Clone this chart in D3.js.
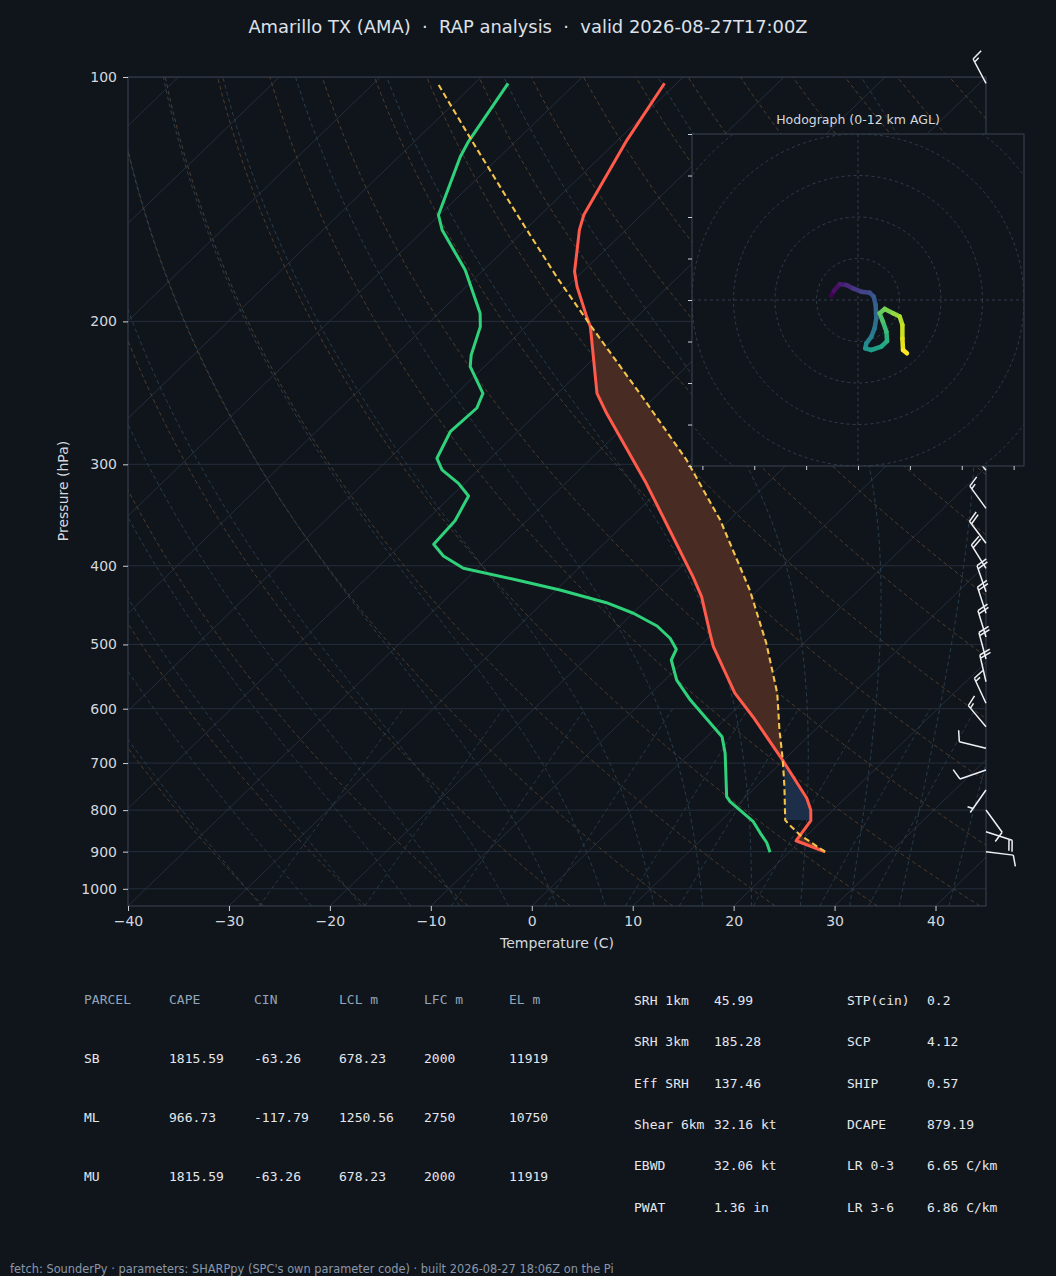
<!DOCTYPE html>
<html>
<head>
<meta charset="utf-8">
<script src="https://cdn.jsdelivr.net/npm/d3@7"></script>
<style>
  html, body { margin: 0; padding: 0; background: #10151c; }
  svg { display: block; }
</style>
</head>
<body>
<div id="chart"></div>
<script>
// ---- sounding (hPa, degC), surface first
const tempP = [900.3, 872.6, 824.4, 799.8, 773.5, 690.8, 613.8, 574.2, 503.2, 484.5, 436.6, 412.6, 361.4, 316.6, 259.6, 245.3, 203, 197.3, 181.3, 173.7, 154.3, 147.9, 119.6, 101.8];
const tempT = [23.5, 19.5, 18.9, 17.8, 16.2, 9.6, 2.5, -1.7, -8.6, -10.3, -14.9, -17.8, -24.9, -32.0, -43.1, -46.1, -53.6, -55.0, -59.0, -60.8, -64.6, -65.7, -69.1, -71.2];

const dewP = [901.6, 877.6, 854.4, 826.6, 781, 770.1, 680.9, 649.7, 585.5, 553.3, 522.6, 507, 491.3, 474.5, 457.7, 444.2, 428.5, 416.5, 402.9, 389, 376.4, 352.1, 328.2, 316.6, 304.8, 294.9, 273.5, 255.7, 245.3, 227.4, 220, 203, 195.4, 172.9, 154.3, 147.9, 125.4, 120.1, 101.8];
const dewT = [18.1, 16.8, 15.2, 13.3, 8.95, 8.1, 3.5, 1.5, -5.4, -8.8, -11.4, -12.0, -13.75, -16.3, -19.95, -23.7, -29.6, -34.9, -41.4, -44.65, -46.8, -47.1, -48.3, -50.6, -53.6, -55.3, -56.7, -56.5, -57.4, -61.4, -62.5, -64.5, -65.9, -71.8, -78.2, -80.1, -83.9, -84.65, -86.7];

const parcelP = [900.3, 858.6, 831.8, 822.9, 748.6, 694, 637.5, 574.2, 498.4, 428.5, 351.4, 296.3, 250, 202, 177, 148.6, 119.6, 102.3];
const parcelT = [23.5, 19.3, 17.0, 16.3, 12.8, 9.9, 6.5, 2.5, -3.7, -10.8, -20.9, -30.4, -40.7, -53.8, -61.8, -72.0, -84.5, -93.4];

const lclP = 823;   // flat bottom of the CIN shading
const cinTopP = 600;

// ---- wind barbs (hPa, direction from, kt)
const barbP = [101.8, 305, 339.9, 375.3, 402.9, 430.5, 457.7, 489.6, 521.2, 555.9, 590.7, 631.4, 671.4, 713.9, 755.5, 799.7, 850.6, 900.3];
const barbDir = [332, 320, 324, 323, 328, 341, 342, 343, 345, 347, 335, 320, 284, 251, 215, 144, 108, 97];
const barbSpd = [15, 15, 15, 20, 20, 20, 20, 20, 20, 20, 15, 15, 10, 10, 5, 10, 20, 10];

// ---- hodograph trace (kt)
const hodoU = [-12.9, -11.7, -8.8, -5.6, -2.4, 1.6, 5.6, 7.6, 8.5, 8.8, 8.0, 6.4, 4.0, 3.5, 6.4, 11.2, 14.0, 13.7, 12.0, 10.4, 12.9, 16.9, 20.1, 21.4, 21.4, 21.7, 23.6];
const hodoV = [2.1, 4.3, 7.6, 7.2, 5.6, 4.0, 3.5, 1.6, -2.4, -8.8, -13.7, -17.7, -20.9, -23.3, -24.1, -22.5, -19.8, -15.3, -10.4, -6.4, -4.3, -6.4, -8.0, -12.0, -18.5, -24.1, -25.7];
const hodoRings = [20, 40, 60, 80, 100];
const hodoXTicks = [-75, -50, -25, 0, 25, 50, 75];
const hodoYTicks = [-80, -60, -40, -20, 0, 20, 40, 60, 80];

// ---- axes ticks
const pTicks = [100, 200, 300, 400, 500, 600, 700, 800, 900, 1000];
const tTicks = [-40, -30, -20, -10, 0, 10, 20, 30, 40];

// ---- background lines (MetPy style families)
const dryT0 = d3.range(-30, 201, 10);
const moistT0 = d3.range(-30, 46, 5);
const mixW = [0.0004, 0.001, 0.002, 0.004, 0.007, 0.01, 0.016, 0.024, 0.032];

// ---- tables
const parcelHead = ["PARCEL", "CAPE", "CIN", "LCL m", "LFC m", "EL m"];
const parcelRows = [
  ["SB", "1815.59", "-63.26", "678.23", "2000", "11919"],
  ["ML", "966.73", "-117.79", "1250.56", "2750", "10750"],
  ["MU", "1815.59", "-63.26", "678.23", "2000", "11919"]
];
const paramRows = [
  ["SRH 1km", "45.99", "STP(cin)", "0.2"],
  ["SRH 3km", "185.28", "SCP", "4.12"],
  ["Eff SRH", "137.46", "SHIP", "0.57"],
  ["Shear 6km", "32.16 kt", "DCAPE", "879.19"],
  ["EBWD", "32.06 kt", "LR 0-3", "6.65 C/km"],
  ["PWAT", "1.36 in", "LR 3-6", "6.86 C/km"]
];

const title = "Amarillo TX (AMA)  \u00b7  RAP analysis  \u00b7  valid 2026-08-27T17:00Z";
const footer = "fetch: SounderPy \u00b7 parameters: SHARPpy (SPC's own parameter code) \u00b7 built 2026-08-27 18:06Z on the Pi";

// ---------------------------------------------------------------
const W = 1056, H = 1276;
const BG = "#10151c";
const TXT = "#d4d8df";
const FRAME = "#3a4352";

const svg = d3.select("#chart").append("svg")
    .attr("width", W).attr("height", H)
    .attr("font-family", "DejaVu Sans");

svg.append("rect").attr("width", W).attr("height", H).attr("fill", BG);

const plot = { left: 128, right: 986, top: 77, bottom: 906 };

const xScale = d3.scaleLinear().domain([-40, 45]).range([plot.left, plot.right]);
const yScale = d3.scaleLog().domain([1050, 100]).range([plot.bottom, plot.top]);
const skewK = (plot.right - plot.left) / (plot.bottom - plot.top); // 45 deg in axes units
const sx = (t, p) => xScale(t) + (plot.bottom - yScale(p)) * skewK;

const line = d3.line().x(d => sx(d[1], d[0])).y(d => yScale(d[0]));

svg.append("defs").append("clipPath").attr("id", "plotclip")
  .append("rect")
    .attr("x", plot.left).attr("y", plot.top)
    .attr("width", plot.right - plot.left).attr("height", plot.bottom - plot.top);

const g = svg.append("g").attr("clip-path", "url(#plotclip)");

// isotherms
d3.range(-130, 51, 10).forEach(t => {
  g.append("path").attr("d", line([[1050, t], [100, t]]))
    .attr("fill", "none").attr("stroke", "#283040").attr("stroke-width", 0.9);
});
// pressure grid
pTicks.forEach(p => {
  g.append("line").attr("x1", plot.left).attr("x2", plot.right)
    .attr("y1", yScale(p)).attr("y2", yScale(p))
    .attr("stroke", "#283040").attr("stroke-width", 0.9);
});

const pFine = d3.range(1050, 99, -5);

// dry adiabats
dryT0.forEach(t0 => {
  const th = t0 + 273.15;
  const pts = pFine.map(p => [p, th * Math.pow(p / 1000, 0.2857) - 273.15]);
  g.append("path").attr("d", line(pts))
    .attr("fill", "none").attr("stroke", "#54412e").attr("stroke-width", 0.9)
    .attr("stroke-dasharray", "4,3");
});

// moist adiabats (integrated from 1000 hPa)
const Rd = 287.04749, Cp = 1004.6662, Lv = 2.50084e6, eps = 0.6219569;
function satMix(p, T) {
  const tc = T - 273.15;
  const es = 6.112 * Math.exp(17.67 * tc / (tc + 243.5));
  return eps * es / (p - es);
}
function dTdp(p, T) {
  const rs = satMix(p, T);
  return (1 / p) * (Rd * T + Lv * rs) / (Cp + (Lv * Lv * rs * eps) / (Rd * T * T));
}
function integrate(T0, p0, p1, h) {
  const out = [[p0, T0]];
  let T = T0, p = p0;
  const n = Math.round(Math.abs(p1 - p0) / h), s = (p1 - p0) / n;
  for (let i = 0; i < n; i++) {
    const k1 = dTdp(p, T);
    const k2 = dTdp(p + s / 2, T + s / 2 * k1);
    const k3 = dTdp(p + s / 2, T + s / 2 * k2);
    const k4 = dTdp(p + s, T + s * k3);
    T += s / 6 * (k1 + 2 * k2 + 2 * k3 + k4);
    p += s;
    out.push([p, T]);
  }
  return out;
}
moistT0.forEach(t0 => {
  const T0 = t0 + 273.15;
  const down = integrate(T0, 1000, 1050, 5).reverse();
  const up = integrate(T0, 1000, 100, 5).slice(1);
  const pts = down.concat(up).map(d => [d[0], d[1] - 273.15]);
  g.append("path").attr("d", line(pts))
    .attr("fill", "none").attr("stroke", "#2a4150").attr("stroke-width", 0.9)
    .attr("stroke-dasharray", "4,3");
});

// mixing ratio lines
mixW.forEach(w => {
  const pts = d3.range(1050, 599, -10).map(p => {
    const e = p * w / (eps + w);
    const l = Math.log(e / 6.112);
    return [p, 243.5 * l / (17.67 - l)];
  });
  g.append("path").attr("d", line(pts))
    .attr("fill", "none").attr("stroke", "#283d4a").attr("stroke-width", 0.9)
    .attr("stroke-dasharray", "4,3");
});

// CAPE / CIN shading
const envAt = d3.scaleLog().domain(tempP).range(tempT);
const parAt = d3.scaleLog().domain(parcelP).range(parcelT);

const capeGrid = d3.range(900, 102, -0.5);
g.append("path")
  .attr("d", d3.area()
    .y(p => yScale(p))
    .x0(p => sx(envAt(p), p))
    .x1(p => sx(Math.max(envAt(p), parAt(p)), p))(capeGrid))
  .attr("fill", "#482c24");

const cinGrid = d3.range(lclP, cinTopP, -0.5);
g.append("path")
  .attr("d", d3.area()
    .y(p => yScale(p))
    .x0(p => sx(Math.min(envAt(p), parAt(p)), p))
    .x1(p => sx(envAt(p), p))(cinGrid))
  .attr("fill", "#1c2e48");

// profiles
g.append("path").attr("d", line(d3.zip(dewP, dewT)))
  .attr("fill", "none").attr("stroke", "#2fd27a").attr("stroke-width", 3)
  .attr("stroke-linejoin", "round");
g.append("path").attr("d", line(d3.zip(tempP, tempT)))
  .attr("fill", "none").attr("stroke", "#ff5a4a").attr("stroke-width", 3)
  .attr("stroke-linejoin", "round");
g.append("path").attr("d", line(d3.zip(parcelP, parcelT)))
  .attr("fill", "none").attr("stroke", "#f4c34a").attr("stroke-width", 2.1)
  .attr("stroke-dasharray", "6,3.5");

// frame
svg.append("rect")
  .attr("x", plot.left).attr("y", plot.top)
  .attr("width", plot.right - plot.left).attr("height", plot.bottom - plot.top)
  .attr("fill", "none").attr("stroke", FRAME).attr("stroke-width", 1);

// axes
const gy = svg.append("g").attr("transform", `translate(${plot.left},0)`)
  .call(d3.axisLeft(yScale).tickValues(pTicks).tickFormat(d3.format("d")).tickSize(5).tickPadding(6));
const gx = svg.append("g").attr("transform", `translate(0,${plot.bottom})`)
  .call(d3.axisBottom(xScale).tickValues(tTicks)
    .tickFormat(d => d < 0 ? "\u2212" + Math.abs(d) : String(d)).tickSize(5).tickPadding(5));
[gx, gy].forEach(a => {
  a.select(".domain").remove();
  a.attr("font-family", "DejaVu Sans").attr("font-size", 14);
  a.selectAll("line").attr("stroke", "#c9ced6");
  a.selectAll("text").attr("fill", TXT);
});

svg.append("text")
  .attr("transform", "translate(68,491) rotate(-90)")
  .attr("text-anchor", "middle").attr("font-size", 14).attr("fill", TXT)
  .text("Pressure (hPa)");
svg.append("text")
  .attr("x", 557).attr("y", 948)
  .attr("text-anchor", "middle").attr("font-size", 14).attr("fill", TXT)
  .text("Temperature (C)");

svg.append("text")
  .attr("x", W / 2).attr("y", 33)
  .attr("text-anchor", "middle").attr("font-size", 17.9).attr("fill", "#dde1e8")
  .style("white-space", "pre")
  .text(title);

// wind barbs on the right edge
function barbPath(x, y, dir, spd) {
  const L = 27.5, fh = 0.4 * L, fw = 0.25 * L, sp = 0.12 * L;
  const a = dir * Math.PI / 180;
  const dx = Math.sin(a), dy = -Math.cos(a);
  const nx = -dy, ny = dx;
  const at = (o, h) => [x + dx * o + nx * h, y + dy * o + ny * h];
  const path = d3.path();
  path.moveTo(...at(0, 0)); path.lineTo(...at(L, 0));
  let s = Math.round(spd / 5) * 5;
  const flags = Math.floor(s / 50); s -= flags * 50;
  const full = Math.floor(s / 10); s -= full * 10;
  const half = s >= 5;
  let off = L;
  for (let i = 0; i < flags; i++) {
    path.moveTo(...at(off, 0)); path.lineTo(...at(off - fw / 2, fh)); path.lineTo(...at(off - fw, 0));
    off -= fw + sp;
  }
  for (let i = 0; i < full; i++) {
    path.moveTo(...at(off, 0)); path.lineTo(...at(off + fw / 2, fh));
    off -= sp;
  }
  if (half) {
    if (off === L) off -= 1.5 * sp;
    path.moveTo(...at(off, 0)); path.lineTo(...at(off + fw / 4, fh / 2));
  }
  return path.toString();
}
const barbG = svg.append("g");
barbP.forEach((p, i) => {
  barbG.append("path")
    .attr("d", barbPath(plot.right, yScale(p), barbDir[i], barbSpd[i]))
    .attr("fill", "none").attr("stroke", "#eef0f4").attr("stroke-width", 1.5);
});

// ---- hodograph inset
const hb = { left: 692, right: 1024, top: 134, bottom: 466 };
const hu = d3.scaleLinear().domain([-80, 80]).range([hb.left, hb.right]);
const hv = d3.scaleLinear().domain([-80, 80]).range([hb.bottom, hb.top]);

svg.append("rect")
  .attr("x", hb.left).attr("y", hb.top)
  .attr("width", hb.right - hb.left).attr("height", hb.bottom - hb.top)
  .attr("fill", BG);

svg.select("defs").append("clipPath").attr("id", "hodoclip")
  .append("rect")
    .attr("x", hb.left).attr("y", hb.top)
    .attr("width", hb.right - hb.left).attr("height", hb.bottom - hb.top);

const hg = svg.append("g").attr("clip-path", "url(#hodoclip)");
hodoRings.forEach(r => {
  hg.append("circle").attr("cx", hu(0)).attr("cy", hv(0)).attr("r", hu(r) - hu(0))
    .attr("fill", "none").attr("stroke", "#364050").attr("stroke-width", 0.9)
    .attr("stroke-dasharray", "3,3");
});
hg.append("line").attr("x1", hb.left).attr("x2", hb.right).attr("y1", hv(0)).attr("y2", hv(0))
  .attr("stroke", "#364050").attr("stroke-width", 0.9).attr("stroke-dasharray", "3,3");
hg.append("line").attr("y1", hb.top).attr("y2", hb.bottom).attr("x1", hu(0)).attr("x2", hu(0))
  .attr("stroke", "#364050").attr("stroke-width", 0.9).attr("stroke-dasharray", "3,3");

const nH = hodoU.length;
for (let i = 0; i < nH - 1; i++) {
  hg.append("line")
    .attr("x1", hu(hodoU[i])).attr("y1", hv(hodoV[i]))
    .attr("x2", hu(hodoU[i + 1])).attr("y2", hv(hodoV[i + 1]))
    .attr("stroke", d3.interpolateViridis(i / (nH - 2)))
    .attr("stroke-width", 4.5).attr("stroke-linecap", "round");
}

svg.append("rect")
  .attr("x", hb.left).attr("y", hb.top)
  .attr("width", hb.right - hb.left).attr("height", hb.bottom - hb.top)
  .attr("fill", "none").attr("stroke", FRAME).attr("stroke-width", 1);

const hx = svg.append("g").attr("transform", `translate(0,${hb.bottom})`)
  .call(d3.axisBottom(hu).tickValues(hodoXTicks).tickFormat("").tickSize(4));
const hy = svg.append("g").attr("transform", `translate(${hb.left},0)`)
  .call(d3.axisLeft(hv).tickValues(hodoYTicks).tickFormat("").tickSize(4));
[hx, hy].forEach(a => {
  a.select(".domain").remove();
  a.selectAll("line").attr("stroke", "#c9ced6");
});

svg.append("text")
  .attr("x", (hb.left + hb.right) / 2).attr("y", 124)
  .attr("text-anchor", "middle").attr("font-size", 12.5).attr("fill", TXT)
  .text("Hodograph (0-12 km AGL)");

// ---- parameter tables
const mono = "DejaVu Sans Mono";
const colX = [84, 169, 254, 339, 424, 509];
const rowY = [999, 1058, 1117, 1176];
const tbl = svg.append("g").attr("font-family", mono).attr("font-size", 13)
  .attr("dominant-baseline", "central");

parcelHead.forEach((h, j) => {
  tbl.append("text").attr("x", colX[j]).attr("y", rowY[0]).attr("fill", "#93a5ba").text(h);
});
parcelRows.forEach((r, i) => {
  r.forEach((v, j) => {
    tbl.append("text").attr("x", colX[j]).attr("y", rowY[i + 1]).attr("fill", "#e4e7ec").text(v);
  });
});

const pColX = [634, 714, 847, 927];
const pRowY = [1000, 1041, 1083, 1124, 1165, 1207];
paramRows.forEach((r, i) => {
  r.forEach((v, j) => {
    tbl.append("text").attr("x", pColX[j]).attr("y", pRowY[i]).attr("fill", "#e4e7ec").text(v);
  });
});

svg.append("text")
  .attr("x", 10).attr("y", 1273)
  .attr("font-size", 11.4).attr("fill", "#8a97a8")
  .text(footer);
</script>
</body>
</html>
